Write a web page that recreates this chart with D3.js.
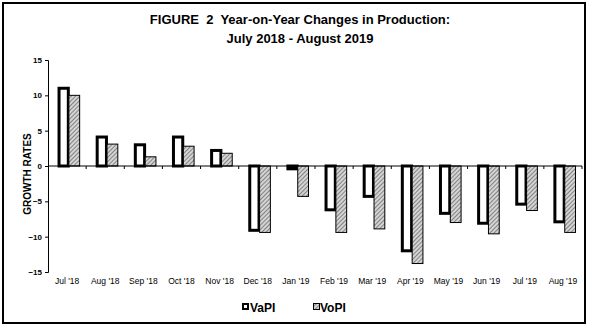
<!DOCTYPE html>
<meta charset="utf-8">
<style>
body { margin: 0; background: #fff; font-family: "Liberation Sans", Arial, sans-serif; }
</style>
<body>
<div id="chart"></div>
<script src="https://d3js.org/d3.v7.min.js"></script>
<script>
var months = ["Jul '18", "Aug '18", "Sep '18", "Oct '18", "Nov '18", "Dec '18", "Jan '19",
              "Feb '19", "Mar '19", "Apr '19", "May '19", "Jun '19", "Jul '19", "Aug '19"];
var series = ["VaPI", "VoPI"];
var vapi = [11.0, 4.1, 3.0, 4.1, 2.2, -9.1, -0.4, -6.2, -4.3, -12.0, -6.7, -8.1, -5.4, -7.9];
var vopi = [10.0, 3.1, 1.3, 2.8, 1.8, -9.4, -4.3, -9.4, -8.9, -13.8, -8.0, -9.6, -6.3, -9.4];
var yTicks = [15, 10, 5, 0, -5, -10, -15];

var W = 589, H = 328;
var plotLeft = 48, plotRight = 582, plotTop = 60, plotBottom = 272;

var svg = d3.select("#chart").append("svg")
    .attr("width", W)
    .attr("height", H);

// hatch for the VoPI bars
var pat = svg.append("defs").append("pattern")
    .attr("id", "hatch")
    .attr("patternUnits", "userSpaceOnUse")
    .attr("width", 3)
    .attr("height", 3)
    .attr("patternTransform", "rotate(45)");
pat.append("rect").attr("width", 3).attr("height", 3).attr("fill", "#d4d4d4");
pat.append("line").attr("x1", 0).attr("y1", 0).attr("x2", 0).attr("y2", 3)
    .attr("stroke", "#333").attr("stroke-width", 1);

// frame
svg.append("rect")
    .attr("x", 3).attr("y", 3)
    .attr("width", 582).attr("height", 320)
    .attr("fill", "none").attr("stroke", "#000").attr("stroke-width", 2);

// title
var title = svg.append("text")
    .attr("text-anchor", "middle")
    .attr("font-weight", "bold")
    .attr("font-size", "13px")
    .style("white-space", "pre");
title.append("tspan").attr("x", 300).attr("y", 24).text("FIGURE  2  Year-on-Year Changes in Production:");
title.append("tspan").attr("x", 300).attr("y", 43).text("July 2018 - August 2019");

var x0 = d3.scaleBand().domain(months).range([plotLeft, plotRight]);
var bw = x0.bandwidth();
var x1 = d3.scaleBand().domain(series).range([bw * 0.25, bw * 0.83]).paddingInner(0.05);

var y = d3.scaleLinear().domain([-15, 15]).range([plotBottom, plotTop]);

// y axis
var yAxis = svg.append("g")
    .attr("transform", "translate(" + plotLeft + ",0)")
    .call(d3.axisLeft(y).tickValues(yTicks).tickSize(3).tickPadding(3).tickFormat(d3.format("d")));
yAxis.selectAll("text")
    .attr("font-family", "Liberation Sans, Arial, sans-serif")
    .attr("font-size", "8px")
    .attr("font-weight", "bold");

svg.append("text")
    .attr("transform", "translate(31,174) rotate(-90)")
    .attr("text-anchor", "middle")
    .attr("font-size", "10px")
    .attr("font-weight", "bold")
    .text("GROWTH RATES");

// bars
var rows = months.map(function(m, i) {
    return { month: m, VaPI: vapi[i], VoPI: vopi[i] };
});

var groups = svg.selectAll(".month")
    .data(rows)
    .enter().append("g")
    .attr("class", "month")
    .attr("transform", function(d) { return "translate(" + x0(d.month) + ",0)"; });

groups.append("rect")
    .attr("x", x1("VaPI") + 1.5)
    .attr("width", x1.bandwidth() - 1.5)
    .attr("y", function(d) { return y(Math.max(0, d.VaPI)); })
    .attr("height", function(d) { return Math.abs(y(d.VaPI) - y(0)); })
    .attr("fill", "#fff")
    .attr("stroke", "#000")
    .attr("stroke-width", 3);

groups.append("rect")
    .attr("x", x1("VoPI"))
    .attr("width", x1.bandwidth())
    .attr("y", function(d) { return y(Math.max(0, d.VoPI)); })
    .attr("height", function(d) { return Math.abs(y(d.VoPI) - y(0)); })
    .attr("fill", "url(#hatch)")
    .attr("stroke", "#000")
    .attr("stroke-width", 1);

// x axis along zero, ticks at category boundaries
svg.append("line")
    .attr("x1", plotLeft).attr("x2", plotRight)
    .attr("y1", y(0)).attr("y2", y(0))
    .attr("stroke", "#000");
svg.selectAll(".xtick")
    .data(months)
    .enter().append("line")
    .attr("class", "xtick")
    .attr("x1", function(d) { return x0(d) + bw; })
    .attr("x2", function(d) { return x0(d) + bw; })
    .attr("y1", y(0)).attr("y2", y(0) + 3)
    .attr("stroke", "#000");

svg.selectAll(".xlabel")
    .data(months)
    .enter().append("text")
    .attr("class", "xlabel")
    .attr("x", function(d) { return x0(d) + bw / 2; })
    .attr("y", 284)
    .attr("text-anchor", "middle")
    .attr("font-size", "8.5px")
    .text(function(d) { return d; });

// legend
var legend = svg.append("g");
legend.append("rect")
    .attr("x", 243).attr("y", 304).attr("width", 5).attr("height", 5)
    .attr("fill", "#fff").attr("stroke", "#000").attr("stroke-width", 2);
legend.append("text")
    .attr("x", 250).attr("y", 312)
    .attr("font-size", "12px").attr("font-weight", "bold")
    .text("VaPI");
legend.append("rect")
    .attr("x", 313.5).attr("y", 303.5).attr("width", 6).attr("height", 6)
    .attr("fill", "url(#hatch)").attr("stroke", "#000").attr("stroke-width", 1);
legend.append("text")
    .attr("x", 320).attr("y", 312)
    .attr("font-size", "12px").attr("font-weight", "bold")
    .text("VoPI");
</script>
</body>
